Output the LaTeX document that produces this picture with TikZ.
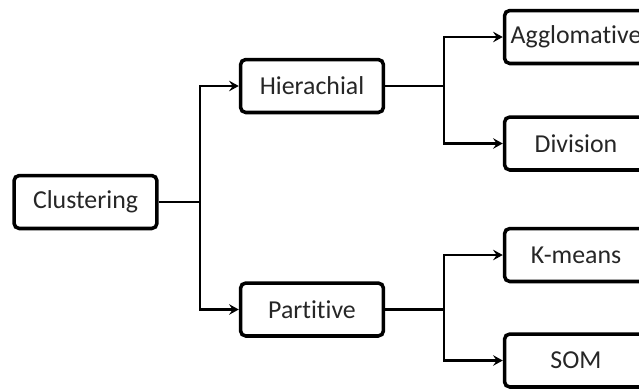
\documentclass[tikz,border=0pt]{standalone}
\usepackage{fontspec}
\setmainfont{Carlito}[Ligatures=NoCommon]
\usetikzlibrary{arrows.meta}

\begin{document}
\begin{tikzpicture}[x=0.02cm,y=-0.02cm,
  box/.style={draw,line width=2pt,rounded corners=3pt,minimum width=2.86cm,
    minimum height=1.06cm,inner sep=0pt,text=black!85,font=\fontsize{14.7}{17}\selectfont},
  link/.style={line width=1.2pt,-{Stealth[length=5.5pt,width=6pt,inset=2pt]}}]
\useasboundingbox (0,0) rectangle (639,390);
\clip (0,0) rectangle (639,390);

\node[box] (clust) at (85.5,202) {Clustering};
\node[box] (hier) at (312,86) {Hierachial};
\node[box] (part) at (312,309.5) {Partitive};

\node[box] (aggl) at (576,37) {Agglomative};
\node[box] (divi) at (576,143.5) {Division};
\node[box] (kmea) at (576,255) {K-means};
\node[box] (som) at (576,360.5) {SOM};

\draw[link] (clust.east) -- ++(41,0) |- (hier.west);
\draw[link] (clust.east) -- ++(41,0) |- (part.west);

\draw[link] (hier.east) -- ++(59,0) |- (aggl.west);
\draw[link] (hier.east) -- ++(59,0) |- (divi.west);

\draw[link] (part.east) -- ++(59,0) |- (kmea.west);
\draw[link] (part.east) -- ++(59,0) |- (som.west);
\end{tikzpicture}
\end{document}
